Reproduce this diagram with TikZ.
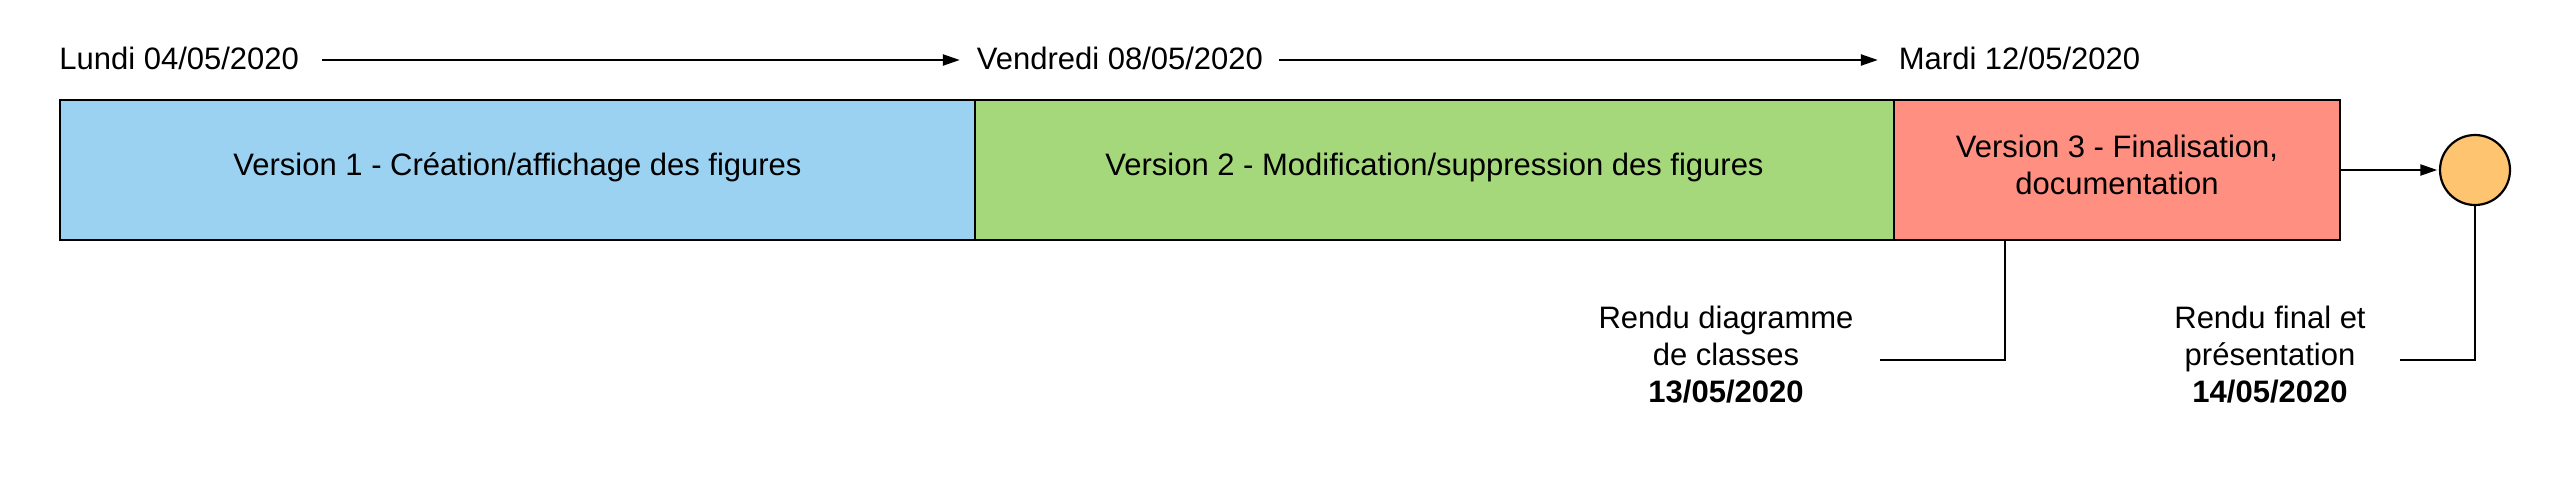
\documentclass[tikz,border=0pt]{standalone}
\usepackage{fontspec}
\setmainfont{Liberation Sans}[Ligatures=NoCommon]
\usetikzlibrary{arrows.meta,calc}
\definecolor{vblue}{RGB}{155,210,242}
\definecolor{vgreen}{RGB}{165,216,122}
\definecolor{vred}{RGB}{255,143,128}
\definecolor{vorange}{RGB}{255,196,112}
\newcommand\mystrutx{\rule[-13pt]{0pt}{37pt}}
\tikzset{
  every node/.style={font=\fontsize{31}{37}\selectfont, inner sep=0pt, outer sep=0pt},
  datelbl/.style={anchor=base, text height=22pt, text depth=3pt},
  phase/.style={draw, line width=2.2pt, minimum height=140pt, anchor=north west, align=center},
  conn/.style={line width=2.2pt},
  arr/.style={conn, -{Triangle[length=17pt,width=11pt]}},
  note/.style={align=center},
}
\begin{document}
\begin{tikzpicture}[x=1pt,y=-1pt]
\useasboundingbox (0,0) rectangle (2549,480);
% dates
\node[datelbl] (d1) at (179.2,69.5) {Lundi 04/05/2020};
\node[datelbl] (d2) at (1119.9,69.5) {Vendredi 08/05/2020};
\node[datelbl] (d3) at (2019.5,69.5) {Mardi 12/05/2020};
% phases
\node[phase, fill=vblue, minimum width=915pt] (v1) at (60,100) {\mystrutx Version 1 - Création/affichage des figures};
\node[phase, fill=vgreen, minimum width=919pt] (v2) at (975,100) {\mystrutx Version 2 - Modification/suppression des figures};
\node[phase, fill=vred, minimum width=446pt] (v3) at (1894,100) {\mystrutx Version 3 - Finalisation,\\\mystrutx documentation};
% end milestone
\node[circle, draw, line width=2.2pt, fill=vorange, minimum size=70pt] (fin) at (2475,170) {};
% notes
\node[note] (r1) at (1726,360) {\mystrutx Rendu diagramme\\\mystrutx de classes\\\mystrutx\textbf{13/05/2020}};
\node[note] (r2) at (2270,360) {\mystrutx Rendu final et\\\mystrutx présentation\\\mystrutx\textbf{14/05/2020}};
% connectors
\draw[arr, shorten <=23pt, shorten >=17pt] (d1.east) -- (d2.west);
\draw[arr, shorten <=16pt, shorten >=21pt] (d2.east) -- (d3.west);
\draw[arr, shorten >=2.7pt] (v3.east) -- (fin.west);
\draw[conn, shorten >=26.5pt] ($(v3.south west)!0.249!(v3.south east)$) |- (r1.east);
\draw[conn, shorten >=34.4pt] (fin.south) |- (r2.east);
\end{tikzpicture}
\end{document}
